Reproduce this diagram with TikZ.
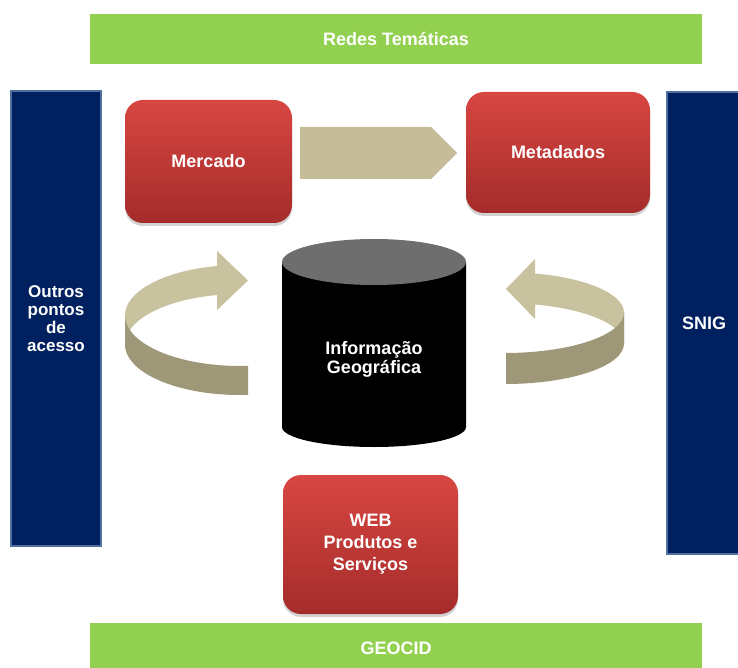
\documentclass[tikz,border=0pt]{standalone}
\usepackage{fontspec}
\setmainfont{Liberation Sans}
\usetikzlibrary{shapes.arrows,shadows}
\definecolor{barGreen}{RGB}{146,208,80}
\definecolor{barNavy}{RGB}{0,32,96}
\definecolor{navyLine}{RGB}{79,112,160}
\definecolor{boxTop}{RGB}{216,70,66}
\definecolor{boxBottom}{RGB}{164,44,42}
\definecolor{flowTan}{RGB}{196,189,151}
\definecolor{ribLight}{RGB}{201,194,158}
\definecolor{ribDark}{RGB}{158,152,120}
\definecolor{cylTop}{RGB}{110,110,110}
\begin{document}
\begin{tikzpicture}[x=1pt,y=-1pt,
    label/.style={text=white,font=\bfseries\fontsize{18}{20}\selectfont,align=center,inner sep=0pt},
    greenbar/.style={label,fill=barGreen,minimum width=612pt,minimum height=50pt},
    navybar/.style={label,fill=barNavy,draw=navyLine,line width=1.2pt},
    redbox/.style={label,rounded corners=18pt,top color=boxTop,bottom color=boxBottom,
      drop shadow={shadow xshift=0pt,shadow yshift=-3pt,opacity=0.35}}]
    \useasboundingbox[fill=white] (0,0) rectangle (738,668);
    % bars round the outside
    \node[greenbar] (redes) at (396,39) {Redes Temáticas};
    \node[greenbar] (geocid) at (396,648) {GEOCID};
    \node[navybar,minimum width=90pt,minimum height=455pt,font=\bfseries\fontsize{17}{18}\selectfont] (outros) at (56,318.5) {Outros\\pontos\\de\\acesso};
    \node[navybar,minimum width=74pt,minimum height=462pt] (snig) at (704,323) {SNIG};
    % boxes
    \node[redbox,minimum width=167pt,minimum height=123pt] (mercado) at (208.5,161.5) {Mercado};
    \node[redbox,minimum width=184pt,minimum height=121pt] (metadados) at (558,152.5) {Metadados};
    \node[redbox,minimum width=175pt,minimum height=139pt,font=\bfseries\fontsize{18}{22}\selectfont] (web) at (370.5,544.5) {WEB\\Produtos e\\Serviços};
    \node[single arrow,fill=flowTan,minimum height=157pt,minimum width=52pt,
      single arrow head extend=0pt,inner sep=0pt,anchor=tail] (flow) at (300,153) {};
    % cylinder
    \fill[black] (282,262) -- (282,427) arc[start angle=180,end angle=0,x radius=92,y radius=20] -- (466,262) -- cycle;
    \fill[cylTop] (374,262) ellipse[x radius=92,y radius=23];
    \node[label,font=\bfseries\fontsize{18}{19}\selectfont] (info) at (374,359) {Informação\\Geográfica};
    % left ribbon
    \fill[ribLight] (125,315.5) arc[start angle=180,end angle=258.46,x radius=115,y radius=50.5] -- ++(0,29)
      arc[start angle=258.46,end angle=180,x radius=115,y radius=50.5] -- cycle;
    \fill[ribDark] (125,315.5) arc[start angle=180,end angle=86,x radius=115,y radius=50.5] -- ++(0,29)
      arc[start angle=86,end angle=180,x radius=115,y radius=50.5] -- cycle;
    \fill[ribLight] (217,251) -- (248,280.5) -- (217,310) -- cycle;
    % right ribbon
    \fill[ribLight] (624,312.6) arc[start angle=360,end angle=284.6,x radius=119,y radius=40.4] -- ++(0,31)
      arc[start angle=284.6,end angle=360,x radius=119,y radius=40.4] -- cycle;
    \fill[ribDark] (624,312.6) arc[start angle=0,end angle=89.5,x radius=119,y radius=40.4] -- ++(0,31)
      arc[start angle=89.5,end angle=0,x radius=119,y radius=40.4] -- cycle;
    \fill[ribLight] (535,259) -- (506,289) -- (535,319) -- cycle;
\end{tikzpicture}
\end{document}
